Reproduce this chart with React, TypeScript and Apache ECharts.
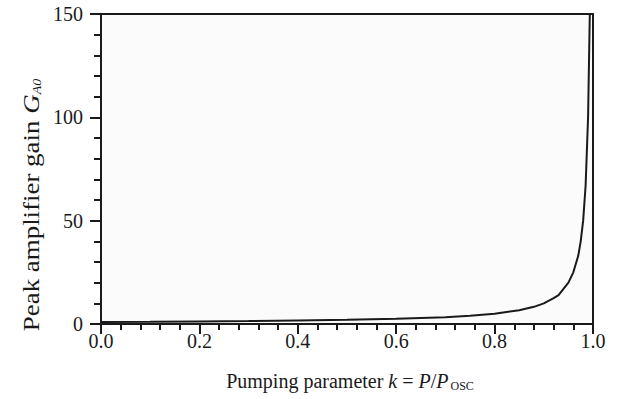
import React, { useEffect, useRef } from "react";
import * as echarts from "echarts";

const kValues = [0, 0.1, 0.2, 0.3, 0.4, 0.5, 0.6, 0.7, 0.75, 0.8, 0.85, 0.88, 0.9, 0.92, 0.93, 0.94, 0.95, 0.96, 0.97, 0.975, 0.98, 0.985, 0.99, 0.9935];
const gainValues = [1, 1.1, 1.25, 1.4, 1.7, 2, 2.5, 3.3, 4, 5, 6.7, 8.3, 10, 12.5, 14, 17, 20, 25, 33, 40, 50, 67, 100, 150];
const xTicks = [0, 0.2, 0.4, 0.6, 0.8, 1.0];
const yTicks = [0, 50, 100, 150];

const FONT = "'Liberation Serif', 'DejaVu Serif', serif";
const INK = "#1a1a1a";

export default function App() {
  const ref = useRef<HTMLDivElement>(null);
  useEffect(() => {
    document.body.style.margin = "0";
    if (!ref.current) return;
    const chart = echarts.init(ref.current, undefined, { renderer: "svg" });
    const data = kValues.map((k, i) => [k, gainValues[i]]);
    chart.setOption({
      animation: false,
      backgroundColor: "#ffffff",
      textStyle: { fontFamily: FONT, color: INK },
      grid: {
        left: 101,
        right: 25,
        top: 14,
        bottom: 75,
        show: true,
        backgroundColor: "#fbfbfb",
        borderColor: INK,
        borderWidth: 2,
      },
      xAxis: {
        type: "value",
        min: xTicks[0],
        max: xTicks[xTicks.length - 1],
        interval: 0.2,
        axisLine: { show: true, onZero: false, lineStyle: { color: INK, width: 2 } },
        axisTick: { show: true, length: 10, lineStyle: { color: INK, width: 2 } },
        minorTick: { show: true, splitNumber: 5, length: 6, lineStyle: { color: INK, width: 2 } },
        splitLine: { show: false },
        axisLabel: {
          margin: 7,
          color: INK,
          fontFamily: FONT,
          fontSize: 20,
          formatter: (v: number) => v.toFixed(1),
        },
      },
      yAxis: {
        type: "value",
        min: yTicks[0],
        max: yTicks[yTicks.length - 1],
        interval: 50,
        axisLine: { show: true, lineStyle: { color: INK, width: 2 } },
        axisTick: { show: true, length: 11, lineStyle: { color: INK, width: 2 } },
        minorTick: { show: true, splitNumber: 5, length: 7, lineStyle: { color: INK, width: 2 } },
        splitLine: { show: false },
        axisLabel: {
          margin: 18,
          color: INK,
          fontFamily: FONT,
          fontSize: 20,
        },
      },
      graphic: [
        {
          type: "text",
          x: 31,
          y: 205,
          rotation: Math.PI / 2,
          scaleX: 1.17,
          style: {
            text: "{n|Peak amplifier gain }{i|G}{s|A0}",
            align: "center",
            verticalAlign: "middle",
            fill: INK,
            rich: {
              n: { fontFamily: FONT, fontSize: 23, fill: INK },
              i: { fontFamily: FONT, fontSize: 23, fontStyle: "italic", fill: INK },
              s: { fontFamily: FONT, fontSize: 12, fontStyle: "italic", fill: INK, padding: [11, 0, 0, 0] },
            },
          },
        },
        {
          type: "text",
          x: 350,
          y: 381,
          style: {
            text: "{n|Pumping parameter }{i|k}{n| = }{i|P}{n|/}{i|P}{s|OSC}",
            align: "center",
            verticalAlign: "middle",
            fill: INK,
            rich: {
              n: { fontFamily: FONT, fontSize: 20, fill: INK },
              i: { fontFamily: FONT, fontSize: 20, fontStyle: "italic", fill: INK },
              s: { fontFamily: FONT, fontSize: 12, fill: INK, padding: [10, 0, 0, 2] },
            },
          },
        },
      ],
      series: [
        {
          type: "line",
          data,
          showSymbol: false,
          smooth: false,
          clip: true,
          lineStyle: { color: INK, width: 2 },
        },
      ],
    });
    return () => chart.dispose();
  }, []);
  return <div ref={ref} style={{ width: 618, height: 399 }} />;
}
